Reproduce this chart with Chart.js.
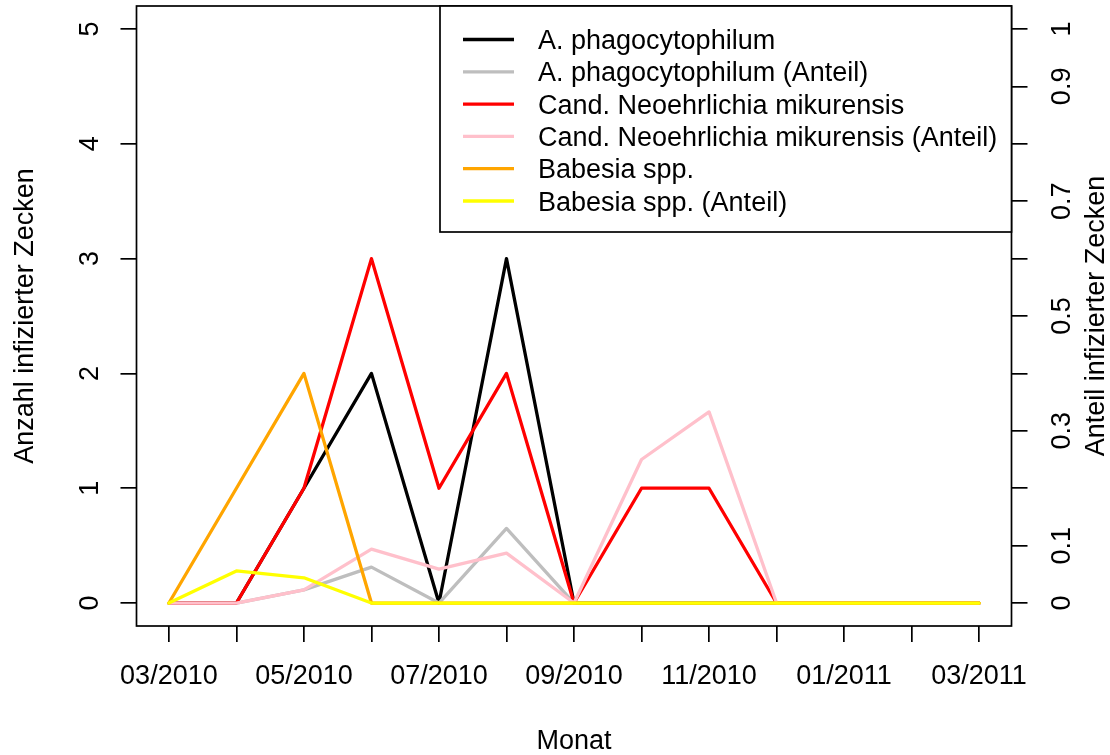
<!DOCTYPE html>
<html>
<head>
<meta charset="utf-8">
<script src="https://cdn.jsdelivr.net/npm/chart.js@4"></script>
<style>
  body { margin: 0; background: #fff; }
  canvas { display: block; }
</style>
</head>
<body>
<canvas id="zecken" width="1110" height="755"></canvas>
<script>
const months = ["03/2010", "04/2010", "05/2010", "06/2010", "07/2010", "08/2010", "09/2010",
  "10/2010", "11/2010", "12/2010", "01/2011", "02/2011", "03/2011"];
const monthTickLabels = ["03/2010", "", "05/2010", "", "07/2010", "", "09/2010",
  "", "11/2010", "", "01/2011", "", "03/2011"];
const leftTickLabels = ["0", "1", "2", "3", "4", "5"];
const rightTickLabels = ["0", "0.1", "", "0.3", "", "0.5", "", "0.7", "", "0.9", "1"];

// counts (left axis)
const anaplasma = [0, 0, 1, 2, 0, 3, 0, 0, 0, 0, 0, 0, 0];
const neoehrlichia = [0, 0, 1, 3, 1, 2, 0, 1, 1, 0, 0, 0, 0];
const babesia = [0, 1, 2, 0, 0, 0, 0, 0, 0, 0, 0, 0, 0];
// proportions (right axis)
const anaplasmaAnteil = [0, 0, 0.023, 0.0625, 0, 0.13, 0, 0, 0, 0, 0, 0, 0];
const neoehrlichiaAnteil = [0, 0, 0.023, 0.094, 0.059, 0.087, 0, 0.25, 0.333, 0, 0, 0, 0];
const babesiaAnteil = [0, 0.056, 0.044, 0, 0, 0, 0, 0, 0, 0, 0, 0, 0];

const legendLabels = ["A. phagocytophilum", "A. phagocytophilum (Anteil)",
  "Cand. Neoehrlichia mikurensis", "Cand. Neoehrlichia mikurensis (Anteil)",
  "Babesia spp.", "Babesia spp. (Anteil)"];
const colors = ["#000000", "#bebebe", "#ff0000", "#ffc0cb", "#ffa500", "#ffff00"];

const FONT = '27px "Liberation Sans", Arial, sans-serif';
const CAP = 9.67; // half cap height at 27px

const pts = (arr) => arr.map((v, i) => ({ x: i, y: v }));

const series = [
  { data: anaplasma, axis: "y" },
  { data: anaplasmaAnteil, axis: "y1" },
  { data: neoehrlichia, axis: "y" },
  { data: neoehrlichiaAnteil, axis: "y1" },
  { data: babesia, axis: "y" },
  { data: babesiaAnteil, axis: "y1" },
];

// frame, tick labels, titles and legend drawn the R way
const rFrame = {
  id: "rFrame",
  afterDraw(chart) {
    const { ctx, chartArea: a, scales } = chart;
    ctx.save();
    ctx.strokeStyle = "#000";
    ctx.lineWidth = 1.7;
    ctx.strokeRect(a.left, a.top, a.right - a.left, a.bottom - a.top);

    ctx.fillStyle = "#000";
    ctx.font = FONT;
    ctx.textAlign = "center";
    ctx.textBaseline = "alphabetic";

    // x tick labels
    scales.x.ticks.forEach((t, i) => {
      const lab = monthTickLabels[i];
      if (lab) ctx.fillText(lab, scales.x.getPixelForValue(t.value), a.bottom + 48.6 + CAP);
    });
    ctx.fillText("Monat", (a.left + a.right) / 2, a.bottom + 113.4 + CAP);

    const rotText = (txt, cx, cy) => {
      ctx.save();
      ctx.translate(cx, cy);
      ctx.rotate(-Math.PI / 2);
      ctx.fillText(txt, 0, CAP);
      ctx.restore();
    };
    scales.y.ticks.forEach((t, i) => {
      if (leftTickLabels[i]) rotText(leftTickLabels[i], a.left - 48.6, scales.y.getPixelForValue(t.value));
    });
    scales.y1.ticks.forEach((t, i) => {
      if (rightTickLabels[i]) rotText(rightTickLabels[i], a.right + 48.4, scales.y1.getPixelForValue(t.value));
    });
    const midY = (a.top + a.bottom) / 2;
    rotText("Anzahl infizierter Zecken", a.left - 113.4, midY);
    rotText("Anteil infizierter Zecken", a.right + 82.5, midY);

    // legend
    const lx = 440, ly = a.top, lw = a.right - 440, lh = 226;
    ctx.fillStyle = "#fff";
    ctx.fillRect(lx, ly, lw, lh);
    ctx.strokeRect(lx, ly, lw, lh);
    ctx.textAlign = "left";
    ctx.lineWidth = 3.3;
    legendLabels.forEach((lab, i) => {
      const y = 39.5 + i * 32.3;
      ctx.strokeStyle = colors[i];
      ctx.beginPath();
      ctx.moveTo(463, y);
      ctx.lineTo(514, y);
      ctx.stroke();
      ctx.fillStyle = "#000";
      ctx.fillText(lab, 538, y + CAP);
    });
    ctx.restore();
  },
};

const tickGrid = {
  drawOnChartArea: false,
  drawTicks: true,
  tickLength: 16,
  color: "#000",
  lineWidth: 1.7,
};

new Chart(document.getElementById("zecken"), {
  type: "line",
  data: {
    datasets: series.map((s, i) => ({
      label: legendLabels[i],
      data: pts(s.data),
      yAxisID: s.axis,
      borderColor: colors[i],
      backgroundColor: colors[i],
      borderWidth: 3.3,
      borderJoinStyle: "round",
      borderCapStyle: "round",
      pointRadius: 0,
      tension: 0,
      order: 6 - i, // later series on top, as in R
    })),
  },
  options: {
    responsive: false,
    animation: false,
    devicePixelRatio: 1,
    layout: { padding: { top: 6, left: 0, right: 0, bottom: 0 } },
    plugins: { legend: { display: false }, tooltip: { enabled: false } },
    scales: {
      x: {
        type: "linear",
        min: -0.48,
        max: 12.48,
        border: { display: false },
        grid: tickGrid,
        ticks: { display: false, stepSize: 1, includeBounds: false, autoSkip: false },
        afterFit: (s) => { s.height = 129; },
      },
      y: {
        position: "left",
        min: -0.2,
        max: 5.2,
        border: { display: false },
        grid: tickGrid,
        ticks: { display: false, stepSize: 1, includeBounds: false },
        afterFit: (s) => { s.width = 136.5; },
      },
      y1: {
        position: "right",
        min: -0.04,
        max: 1.04,
        border: { display: false },
        grid: tickGrid,
        ticks: { display: false, stepSize: 0.1, includeBounds: false },
        afterFit: (s) => { s.width = 98.5; },
      },
    },
  },
  plugins: [rFrame],
});
</script>
</body>
</html>
